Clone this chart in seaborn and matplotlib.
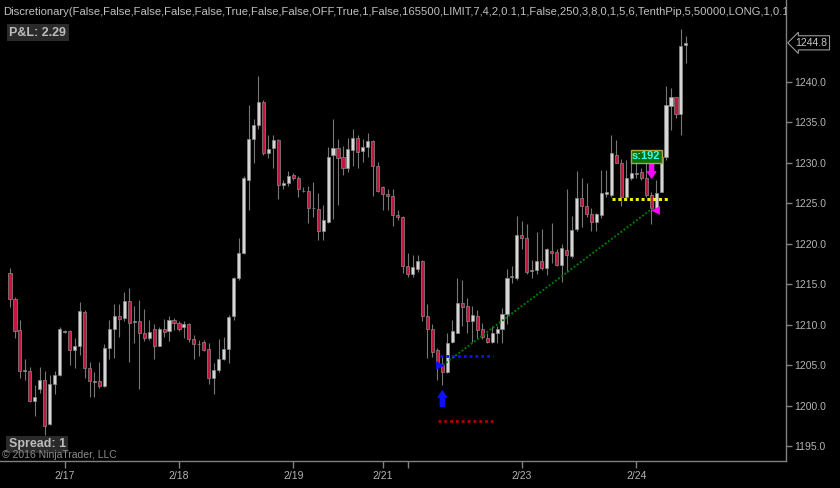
import numpy as np
import pandas as pd
import matplotlib
matplotlib.use("Agg")
import matplotlib.pyplot as plt
import seaborn as sns

# hourly OHLC bars
opens = [1216.4, 1213.1, 1209.3, 1204.3, 1204.3, 1200.6, 1202.0, 1203.2, 1197.7, 1202.7,
         1203.8, 1209.2, 1209.2, 1206.9, 1207.3, 1211.6, 1204.6, 1203.0, 1203.0, 1202.4,
         1207.1, 1209.4, 1211.1, 1210.8, 1212.9, 1210.4, 1210.4, 1208.9, 1208.4, 1209.5,
         1207.4, 1209.4, 1209.2, 1210.6, 1210.2, 1209.7, 1210.1, 1208.2, 1207.6, 1207.8,
         1207.0, 1203.4, 1204.4, 1205.8, 1207.0, 1211.0, 1215.8, 1218.9, 1227.9, 1232.9,
         1234.7, 1237.5, 1231.2, 1231.8, 1232.8, 1227.2, 1227.5, 1228.5, 1228.1, 1226.5,
         1226.5, 1224.4, 1224.3, 1221.6, 1222.7, 1230.9, 1231.8, 1230.7, 1229.3, 1231.6,
         1233.0, 1231.4, 1231.9, 1232.7, 1229.6, 1227.0, 1226.1, 1225.9, 1223.5, 1223.3,
         1217.2, 1216.3, 1216.9, 1217.9, 1211.0, 1209.5, 1206.9, 1205.0, 1204.1, 1207.8,
         1209.0, 1212.7, 1212.3, 1210.5, 1211.1, 1209.5, 1208.4, 1207.8, 1208.9, 1209.4,
         1211.3, 1215.9, 1215.7, 1221.1, 1220.7, 1216.7, 1216.8, 1217.9, 1217.0, 1219.1,
         1219.0, 1217.4, 1219.2, 1218.5, 1221.8, 1225.6, 1224.6, 1223.7, 1222.7, 1223.5,
         1226.1, 1226.0, 1231.0, 1230.0, 1225.8, 1228.1, 1228.7, 1228.8, 1228.1, 1226.0,
         1224.4, 1226.4, 1230.7, 1237.0, 1238.1, 1236.0, 1244.5]
highs = [1217.0, 1213.4, 1210.6, 1205.7, 1204.8, 1202.5, 1204.8, 1204.3, 1203.8, 1204.3,
         1209.7, 1209.3, 1209.3, 1208.3, 1212.8, 1211.8, 1205.4, 1204.2, 1205.4, 1207.6,
         1210.6, 1212.6, 1212.6, 1214.0, 1214.5, 1212.3, 1213.0, 1211.9, 1210.6, 1210.1,
         1209.7, 1210.7, 1211.0, 1210.8, 1210.4, 1210.4, 1210.2, 1208.7, 1208.1, 1208.1,
         1207.7, 1205.2, 1208.2, 1208.5, 1211.2, 1215.9, 1220.7, 1228.4, 1237.1, 1235.4,
         1240.7, 1237.7, 1233.4, 1233.4, 1232.9, 1227.9, 1229.0, 1228.7, 1228.3, 1227.0,
         1227.1, 1227.6, 1226.2, 1224.8, 1231.9, 1235.4, 1232.9, 1232.1, 1233.0, 1234.1,
         1233.4, 1232.9, 1233.7, 1232.8, 1230.1, 1227.1, 1226.8, 1226.8, 1224.2, 1223.4,
         1218.8, 1218.6, 1218.6, 1218.0, 1212.5, 1210.1, 1207.1, 1206.0, 1209.0, 1210.6,
         1215.8, 1215.5, 1213.3, 1212.3, 1211.8, 1210.2, 1208.9, 1209.8, 1209.8, 1212.0,
         1216.9, 1217.2, 1223.4, 1222.8, 1222.4, 1218.0, 1221.4, 1221.8, 1219.4, 1222.6,
         1219.3, 1219.9, 1226.8, 1223.4, 1229.0, 1228.1, 1227.5, 1224.4, 1223.8, 1229.1,
         1229.1, 1233.4, 1232.8, 1230.5, 1230.3, 1230.5, 1230.3, 1229.3, 1231.2, 1226.4,
         1227.9, 1231.2, 1239.5, 1239.2, 1238.1, 1246.5, 1245.6]
lows = [1212.2, 1208.4, 1203.4, 1203.2, 1200.4, 1198.7, 1201.5, 1196.3, 1197.6, 1201.4,
        1203.7, 1209.0, 1205.0, 1204.6, 1206.2, 1203.4, 1201.0, 1201.1, 1202.2, 1202.3,
        1205.8, 1205.9, 1208.5, 1210.4, 1205.4, 1207.7, 1202.0, 1208.0, 1208.1, 1205.7,
        1207.3, 1208.5, 1208.0, 1209.3, 1209.2, 1208.4, 1207.8, 1205.7, 1206.1, 1206.7,
        1202.7, 1201.4, 1204.2, 1205.6, 1205.3, 1210.6, 1215.5, 1218.7, 1224.2, 1229.9,
        1234.2, 1230.9, 1230.6, 1229.4, 1225.5, 1226.7, 1227.1, 1227.9, 1225.8, 1226.4,
        1222.5, 1223.3, 1220.4, 1220.4, 1222.5, 1223.1, 1224.8, 1228.5, 1228.8, 1229.6,
        1229.4, 1230.1, 1230.7, 1225.9, 1226.4, 1224.2, 1224.1, 1222.2, 1222.9, 1216.4,
        1215.9, 1215.9, 1216.5, 1210.5, 1205.9, 1206.0, 1203.1, 1202.5, 1204.0, 1207.7,
        1208.9, 1209.8, 1208.9, 1207.9, 1208.3, 1208.2, 1207.7, 1207.7, 1207.7, 1207.7,
        1210.1, 1215.1, 1215.5, 1219.3, 1216.2, 1215.7, 1216.3, 1216.7, 1216.1, 1217.6,
        1217.2, 1215.2, 1216.5, 1218.2, 1221.5, 1222.1, 1223.3, 1221.6, 1221.6, 1223.2,
        1225.8, 1225.8, 1229.9, 1224.6, 1225.6, 1227.9, 1228.1, 1227.9, 1225.8, 1222.4,
        1224.2, 1226.4, 1230.3, 1234.0, 1235.5, 1233.4, 1242.3]
closes = [1213.1, 1209.2, 1204.3, 1204.3, 1200.5, 1201.0, 1203.2, 1197.5, 1202.7, 1203.8,
          1209.5, 1209.2, 1206.9, 1207.3, 1211.7, 1204.6, 1203.0, 1203.0, 1202.4, 1207.1,
          1209.4, 1211.0, 1210.7, 1212.9, 1210.2, 1210.4, 1208.9, 1208.4, 1209.1, 1207.4,
          1209.5, 1209.1, 1210.6, 1210.2, 1209.5, 1210.1, 1208.2, 1207.6, 1207.6, 1206.9,
          1203.4, 1204.4, 1205.8, 1207.0, 1210.9, 1215.8, 1218.9, 1228.1, 1232.9, 1234.7,
          1237.5, 1231.2, 1231.7, 1232.8, 1227.2, 1227.5, 1228.4, 1228.1, 1226.7, 1226.5,
          1224.4, 1224.4, 1221.6, 1222.9, 1230.7, 1231.8, 1230.6, 1229.3, 1231.7, 1233.0,
          1231.3, 1231.9, 1232.7, 1229.6, 1226.5, 1226.1, 1225.9, 1223.5, 1223.3, 1217.2,
          1216.3, 1217.1, 1217.8, 1211.0, 1209.5, 1206.6, 1205.2, 1204.1, 1207.7, 1209.2,
          1212.7, 1212.2, 1210.4, 1211.2, 1209.3, 1208.5, 1207.9, 1208.9, 1209.5, 1211.3,
          1215.8, 1215.9, 1221.1, 1220.7, 1216.5, 1216.7, 1217.9, 1217.0, 1219.3, 1218.8,
          1217.4, 1219.4, 1218.6, 1221.7, 1225.6, 1224.6, 1223.7, 1222.7, 1223.7, 1226.2,
          1226.4, 1231.2, 1230.0, 1225.8, 1228.1, 1228.7, 1228.7, 1228.1, 1226.0, 1224.4,
          1226.2, 1230.7, 1237.1, 1238.1, 1236.0, 1244.4, 1244.8]

day_ticks = [11, 34, 57, 75, 80, 103, 126]
day_labels = ["2/17", "2/18", "2/19", "2/21", "", "2/23", "2/24"]
price_ticks = [1195, 1200, 1205, 1210, 1215, 1220, 1225, 1230, 1235, 1240]
last_price = 1244.8

# strategy drawings
entry_bar, entry_price = 86.6, 1205.0
exit_bar, exit_price = 129.8, 1224.2
entry_level, entry_span = 1206.1, (86.6, 97.2)
stop_level, stop_span = 1198.1, (86.2, 97.2)
exit_level, exit_span = 1225.5, (121.1, 132.5)
trend_bars, trend_prices = [87.1, 129.2], [1205.0, 1224.3]
buy_arrow = (87.0, 1201.8, 1199.9)
sell_arrow = (129.1, 1228.1, 1230.0)
signal_bar, signal_price, signal_text = 128.0, 1230.8, "s:192"

title = ("Discretionary(False,False,False,False,False,True,False,False,OFF,True,1,False,"
         "165500,LIMIT,7,4,2,0.1,1,False,250,3,8,0,1,5,6,TenthPip,5,50000,LONG,1,0.1")

bars = pd.DataFrame({"open": opens, "high": highs, "low": lows, "close": closes})
bars["bar"] = np.arange(len(bars))

sns.set_style("dark", {"axes.facecolor": "black", "figure.facecolor": "black"})
plt.rcParams["font.family"] = ["Liberation Sans", "DejaVu Sans"]

fig = plt.figure(figsize=(8.4, 4.88), dpi=100)
ax = fig.add_axes([0, 27 / 488, 786 / 840, 461 / 488])
ax.set_facecolor("black")

# wicks and bodies
ax.vlines(bars["bar"], bars["low"], bars["high"], color="#777777", lw=0.8, zorder=2)
body_h = (bars["close"] - bars["open"]).abs().clip(lower=0.12)
body_lo = bars[["open", "close"]].min(axis=1) - np.where(bars["close"] == bars["open"], 0.06, 0)
colors = np.where(bars["close"] > bars["open"], "#d6d6d6",
                  np.where(bars["close"] < bars["open"], "#c4163c", "#b0b0b0"))
ax.bar(bars["bar"], body_h, bottom=body_lo, width=0.62, color=colors,
       edgecolor="#8a8a8a", linewidth=0.5, zorder=3)

# dotted levels
sns.lineplot(x=list(entry_span), y=[entry_level] * 2, color="#1010ff", lw=2.0,
             linestyle=(0, (1, 1.1)), ax=ax, zorder=4)
sns.lineplot(x=list(stop_span), y=[stop_level] * 2, color="#b00000", lw=2.0,
             linestyle=(0, (1, 1.1)), ax=ax, zorder=4)
sns.lineplot(x=list(exit_span), y=[exit_level] * 2, color="#f2f200", lw=2.2,
             linestyle=(0, (1, 0.9)), ax=ax, zorder=4)
sns.lineplot(x=trend_bars, y=trend_prices, color="#007a00", lw=1.4,
             linestyle=(0, (1, 1)), ax=ax, zorder=4)

# entry / exit markers
sns.scatterplot(x=[entry_bar], y=[entry_price], marker=">", color="#1010ff", s=40,
                linewidth=0, ax=ax, zorder=5)
sns.scatterplot(x=[exit_bar], y=[exit_price], marker="<", color="#ff00ff", s=40,
                linewidth=0, ax=ax, zorder=5)
arrow_style = "simple,head_length=0.75,head_width=1.0,tail_width=0.5"
ax.annotate("", xy=(buy_arrow[0], buy_arrow[1]), xytext=(buy_arrow[0], buy_arrow[2]),
            arrowprops=dict(arrowstyle=arrow_style, color="#1010ff", mutation_scale=6,
                            shrinkA=0, shrinkB=0), zorder=5)
ax.annotate("", xy=(sell_arrow[0], sell_arrow[1]), xytext=(sell_arrow[0], sell_arrow[2]),
            arrowprops=dict(arrowstyle=arrow_style, color="#ff00ff", mutation_scale=6,
                            shrinkA=0, shrinkB=0), zorder=5)
ax.text(signal_bar, signal_price, signal_text, ha="center", va="center", color="#33ffee",
        fontsize=8, fontweight="bold", zorder=6,
        bbox=dict(boxstyle="square,pad=0.12", fc="#0b6e0b", ec="#a8a840", lw=1))

# axes
ax.set_xlim(-2.01, 156.14)
ax.set_ylim(1193.15, 1250.09)
ax.grid(False)
for side in ["top", "left"]:
    ax.spines[side].set_visible(False)
for side in ["right", "bottom"]:
    ax.spines[side].set_visible(True)
    ax.spines[side].set_color("#808080")
    ax.spines[side].set_linewidth(1.0)
ax.yaxis.tick_right()
ax.set_yticks(price_ticks)
ax.set_yticklabels([f"{p:.1f}" for p in price_ticks])
ax.set_xticks(day_ticks)
ax.set_xticklabels(day_labels)
ax.tick_params(axis="y", colors="#808080", labelcolor="#b4b4b4", labelsize=7.5,
               length=4, width=1, pad=2, direction="out", right=True, left=False)
ax.tick_params(axis="x", colors="#808080", labelcolor="#b4b4b4", labelsize=7.5,
               length=5, width=1, pad=2, direction="out", bottom=True)
ax.set_xlabel("")
ax.set_ylabel("")

ax.text(1.012, last_price, f"{last_price:.1f}", transform=ax.get_yaxis_transform(),
        ha="left", va="center", color="#c8c8c8", fontsize=7.5, clip_on=False,
        bbox=dict(boxstyle="larrow,pad=0.2", fc="black", ec="#9a9a9a", lw=0.8))

# overlay texts
ax.text(0.004, 0.974, title, transform=ax.transAxes, ha="left", va="center",
        color="#c0c0c0", fontsize=8.1, clip_on=True)
ax.text(0.012, 0.9295, "P&L: 2.29", transform=ax.transAxes, ha="left", va="center",
        color="#bcbcbc", fontsize=9, fontweight="bold",
        bbox=dict(boxstyle="square,pad=0.2", fc="#2a2a2a", ec="none"))
ax.text(0.011, 0.036, "Spread: 1", transform=ax.transAxes, ha="left", va="center",
        color="#bcbcbc", fontsize=9, fontweight="bold",
        bbox=dict(boxstyle="square,pad=0.2", fc="#2a2a2a", ec="none"))
ax.text(0.003, 0.013, "\u00a9 2016 NinjaTrader, LLC", transform=ax.transAxes, ha="left",
        va="center", color="#8c8c8c", fontsize=7.5)

fig.savefig("out.png", dpi=100, facecolor="black")
